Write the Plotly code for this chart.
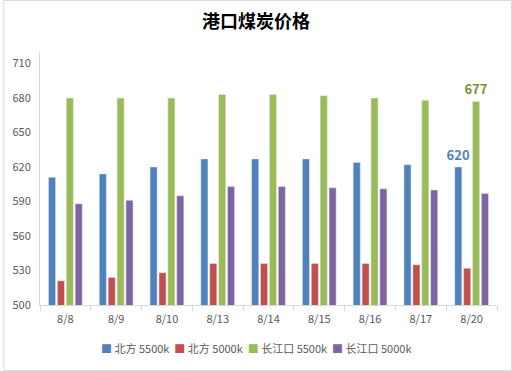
import plotly.graph_objects as go

categories = ["8/8", "8/9", "8/10", "8/13", "8/14", "8/15", "8/16", "8/17", "8/20"]
north_5500 = [611, 614, 620, 627, 627, 627, 624, 622, 620]
north_5000 = [521, 524, 528, 536, 536, 536, 536, 535, 532]
yangtze_5500 = [680, 680, 680, 683, 683, 682, 680, 678, 677]
yangtze_5000 = [588, 591, 595, 603, 603, 602, 601, 600, 597]

series = [
    ("北方 5500k", north_5500, "#4F81BD"),
    ("北方 5000k", north_5000, "#C0504D"),
    ("长江口 5500k", yangtze_5500, "#9BBB59"),
    ("长江口 5000k", yangtze_5000, "#8064A2"),
]
label_series = {"北方 5500k": "#4F81BD", "长江口 5500k": "#77933C"}

font = "Noto Sans CJK SC"
fig = go.Figure()
for name, vals, color in series:
    kw = {}
    if name in label_series:
        texts = [""] * (len(vals) - 1) + ["<b>%d</b>" % vals[-1]]
        kw = dict(text=texts, textposition="outside", cliponaxis=False, constraintext="none",
                  textfont=dict(color=label_series[name], size=13, family=font))
    fig.add_trace(go.Bar(name=name, x=categories, y=vals, marker_color=color,
                         showlegend=False, **kw))

W, H = 512, 371
ml, mr, mt, mb = 37, 15, 52, 66
pw, ph = W - ml - mr, H - mt - mb

legend_html = "&nbsp;&nbsp;".join(
    '<span style="color:%s">■</span>&nbsp;%s' % (c, n) for n, _, c in series
)

fig.update_layout(
    width=W, height=H,
    margin=dict(l=ml, r=mr, t=mt, b=mb),
    paper_bgcolor="white", plot_bgcolor="white",
    barmode="group", bargap=0.3, bargroupgap=0.2,
    title=dict(text="<b>港口煤炭价格</b>", x=0.5, xanchor="center", y=1 - 22 / H, yanchor="middle",
               font=dict(family=font, size=18, color="#000000")),
    font=dict(family=font, size=11, color="#595959"),
    showlegend=False,
    uniformtext=dict(mode=False),
    annotations=[dict(text=legend_html, xref="paper", yref="paper",
                      x=(255 - ml) / pw, y=-(348 - mt - ph) / ph, xanchor="center", yanchor="middle",
                      showarrow=False, font=dict(size=11, color="#595959", family=font))],
    shapes=[dict(type="rect", xref="paper", yref="paper",
                 x0=(0.5 - ml) / pw, x1=(W - 0.5 - ml) / pw,
                 y0=-(mb - 0.5) / ph, y1=(ph + mt - 0.5) / ph,
                 line=dict(color="#D9D9D9", width=1), fillcolor="rgba(0,0,0,0)", layer="below")],
)
fig.update_yaxes(range=[500, 720], tickvals=[500, 530, 560, 590, 620, 650, 680, 710],
                 showgrid=False, showline=True, linecolor="#D9D9D9", linewidth=1,
                 ticks="", ticklabelstandoff=6, tickfont=dict(size=11, color="#595959"),
                 zeroline=False)
fig.update_xaxes(showgrid=False, showline=True, linecolor="#D9D9D9", linewidth=1,
                 ticks="outside", tickson="boundaries", ticklen=5, tickcolor="#D9D9D9",
                 ticklabelstandoff=4, tickfont=dict(size=11, color="#595959"))

fig.write_html("out.html", config={"displayModeBar": False},
               post_script="document.body.style.margin='0';document.body.style.overflow='hidden';")
